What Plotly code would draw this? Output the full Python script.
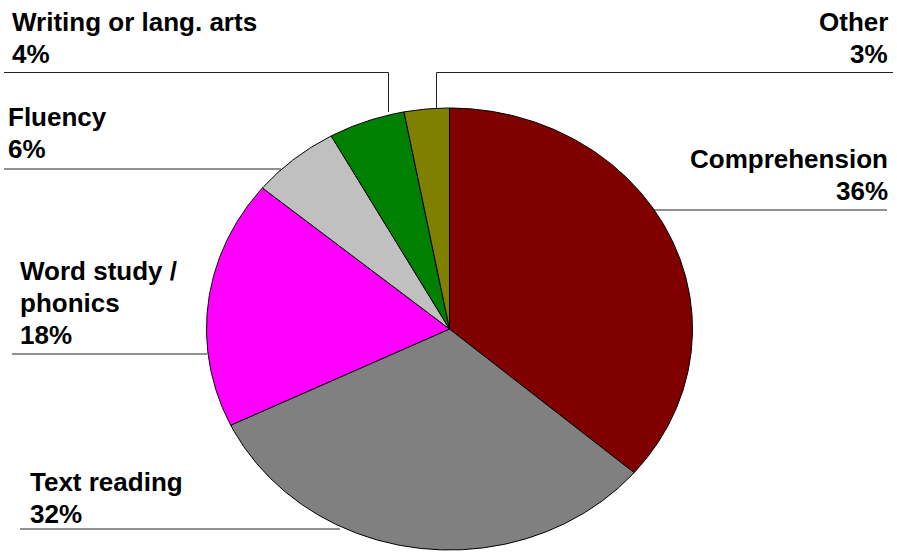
import numpy as np
import plotly.graph_objects as go

# ---- data ----
categories = ["Comprehension", "Text reading", "Word study / phonics", "Fluency",
              "Writing or lang. arts", "Other"]
values = [36.3, 31.6, 18.2, 5.9, 5.1, 3.0]          # slice sizes
label_lines = [["Comprehension", "36%"],
               ["Text reading", "32%"],
               ["Word study /", "phonics", "18%"],
               ["Fluency", "6%"],
               ["Writing or lang. arts", "4%"],
               ["Other", "3%"]]
colors = ["#800000", "#808080", "#FF00FF", "#C0C0C0", "#008000", "#808000"]

# ---- layout geometry (pixels) ----
W, H = 897, 552
cx, cy, rx, ry = 449.5, 329.0, 243.0, 221.0

fig = go.Figure()

total = float(sum(values))
start = 0.0
for cat, v, col in zip(categories, values, colors):
    a0 = start / total * 2 * np.pi
    a1 = (start + v) / total * 2 * np.pi
    n = max(10, int(v * 8))
    th = np.linspace(a0, a1, n)
    xs = np.concatenate([[0], np.sin(th), [0]])
    ys = np.concatenate([[0], np.cos(th), [0]])
    fig.add_trace(go.Scatter(x=xs, y=ys, mode="lines", fill="toself",
                             fillcolor=col, line=dict(color="black", width=1),
                             name=cat, hoverinfo="name", showlegend=False))
    start += v

def px(x):
    return x / W

def py(y):
    return 1 - y / H

# label placements: (x_px, first line center y_px, anchor)
label_pos = [
    (890, 159, "right"),   # Comprehension
    (28, 482, "left"),     # Text reading
    (18, 271, "left"),     # Word study
    (6, 117, "left"),      # Fluency
    (10, 22, "left"),      # Writing
    (890, 22, "right"),    # Other
]
LINE_H = 32
for lines, (x, y, anc) in zip(label_lines, label_pos):
    for i, t in enumerate(lines):
        fig.add_annotation(x=px(x), y=py(y + i * LINE_H), xref="paper", yref="paper",
                           text="<b>" + t + "</b>", showarrow=False,
                           xanchor=anc, yanchor="middle", align=anc,
                           font=dict(family="Liberation Sans, Arial, sans-serif",
                                     size=26, color="black"))

leader_lines = [
    ((4, 72.5), (388.5, 72.5)), ((388.5, 72.5), (388.5, 112)),
    ((436.5, 72.5), (893, 72.5)), ((436.5, 72.5), (436.5, 108)),
    ((4, 169), (281, 169)),
    ((653, 210), (887, 210)),
    ((12, 354), (207, 354)),
    ((20, 529), (340, 529)),
]
for (x0, y0), (x1, y1) in leader_lines:
    fig.add_shape(type="line", xref="paper", yref="paper",
                  x0=px(x0), y0=py(y0), x1=px(x1), y1=py(y1),
                  line=dict(color="#222222", width=1), layer="below")

fig.update_layout(
    width=W, height=H,
    margin=dict(l=0, r=0, t=0, b=0),
    paper_bgcolor="white", plot_bgcolor="white",
    xaxis=dict(range=[(0 - cx) / rx, (W - cx) / rx], visible=False, fixedrange=True),
    yaxis=dict(range=[(cy - H) / ry, cy / ry], visible=False, fixedrange=True),
    showlegend=False,
)

fig.write_html("out.html")
